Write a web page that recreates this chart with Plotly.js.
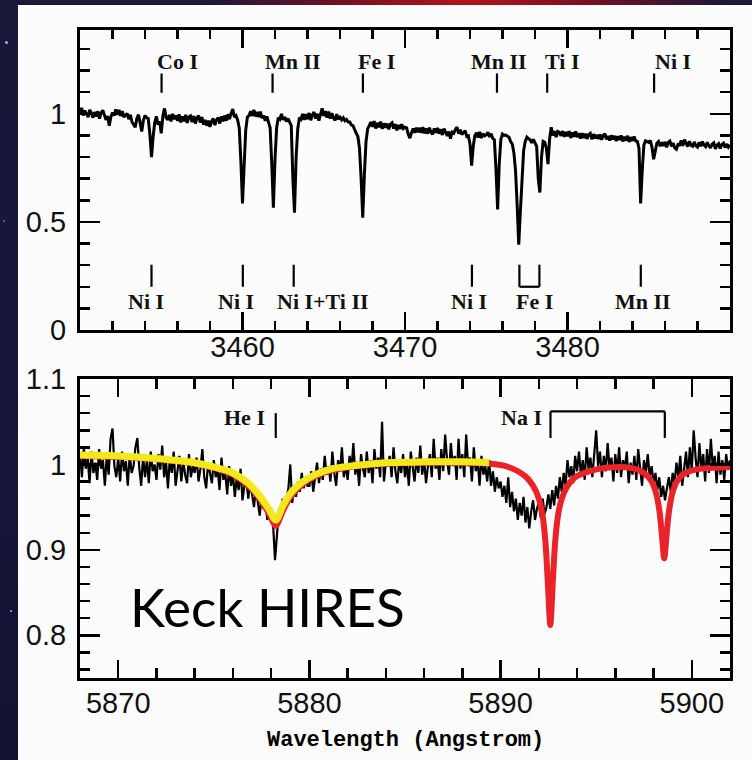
<!DOCTYPE html>
<html>
<head>
<meta charset="utf-8">
<script src="https://cdn.plot.ly/plotly-3.0.1.min.js"></script>
<style>
  html, body { margin: 0; padding: 0; }
  body {
    width: 752px; height: 760px; overflow: hidden; position: relative;
    background:
      radial-gradient(ellipse 260px 40px at 62% 0%, #b3161a 0%, #7a1022 45%, rgba(40,20,50,0) 100%),
      linear-gradient(180deg, #1a1838 0%, #17163a 50%, #121230 100%);
  }
  .star { position: absolute; width: 3px; height: 3px; border-radius: 50%; background: #cfd3ff; opacity: 0.8; }
  #sheet { position: absolute; left: 18px; top: 5px; width: 734px; height: 755px; background: #fcfcfc; }
  #chart { position: absolute; left: 0; top: 0; width: 752px; height: 760px; }
</style>
</head>
<body>
<div class="star" style="left:5px;top:41px"></div>
<div class="star" style="left:10px;top:610px;width:2px;height:2px"></div>
<div class="star" style="left:3px;top:220px;width:2px;height:2px;opacity:0.5"></div>
<div id="sheet"></div>
<div id="chart"></div>
<script>
// ---- UV spectrum, 3450-3490 A (uniform grid) ----
const topStart = 3449.9;
const topStep = 0.1;
const topFlux = [
  1.020, 0.998, 1.028, 0.992, 1.015, 1.000, 0.985, 1.018, 1.004, 0.982,
  1.008, 0.988, 1.012, 0.978, 1.004, 1.016, 0.990, 0.972, 0.990, 0.945,
  0.985, 1.006, 0.992, 1.020, 0.996, 1.018, 0.990, 1.012, 0.985, 0.995,
  1.002, 0.975, 0.995, 0.962, 0.952, 0.938, 0.980, 0.996, 0.958, 0.918,
  0.970, 0.992, 0.982, 0.978, 0.905, 0.800, 0.895, 0.960, 0.988, 0.950,
  0.965, 0.910, 0.990, 1.025, 0.982, 0.972, 0.995, 0.965, 1.000, 0.975,
  0.992, 0.968, 0.998, 0.960, 0.988, 0.965, 0.995, 0.958, 0.985, 0.990,
  0.962, 0.990, 0.955, 0.982, 0.992, 0.960, 0.985, 0.950, 0.972, 0.945,
  0.968, 0.940, 0.965, 0.978, 0.948, 0.972, 0.982, 0.955, 0.988, 0.965,
  0.992, 0.968, 0.998, 0.975, 1.002, 1.022, 0.985, 0.992, 0.972, 0.935,
  0.780, 0.585, 0.760, 0.925, 0.985, 0.992, 1.012, 0.990, 1.018, 0.988,
  1.008, 0.985, 1.010, 0.980, 0.992, 0.968, 0.988, 0.965, 0.935, 0.770,
  0.566, 0.790, 0.935, 0.982, 0.975, 1.000, 0.972, 0.985, 0.965, 0.978,
  0.958, 0.945, 0.700, 0.543, 0.800, 0.930, 0.982, 0.975, 1.000, 0.972,
  0.998, 0.975, 1.004, 0.970, 0.995, 1.008, 0.978, 1.000, 0.968, 1.004,
  1.025, 0.990, 1.012, 0.982, 1.010, 0.978, 1.003, 0.980, 0.970, 0.998,
  0.975, 0.984, 0.972, 0.982, 0.968, 0.974, 0.962, 0.962, 0.948, 0.945,
  0.925, 0.910, 0.895, 0.840, 0.700, 0.520, 0.720, 0.870, 0.930, 0.950,
  0.962, 0.940, 0.966, 0.932, 0.958, 0.938, 0.964, 0.930, 0.956, 0.936,
  0.955, 0.928, 0.952, 0.958, 0.932, 0.952, 0.924, 0.948, 0.930, 0.952,
  0.932, 0.938, 0.935, 0.905, 0.888, 0.912, 0.932, 0.912, 0.936, 0.915,
  0.935, 0.912, 0.938, 0.910, 0.932, 0.908, 0.936, 0.915, 0.905, 0.932,
  0.912, 0.935, 0.908, 0.928, 0.902, 0.932, 0.912, 0.898, 0.918, 0.885,
  0.915, 0.910, 0.928, 0.938, 0.908, 0.926, 0.904, 0.912, 0.922, 0.895,
  0.898, 0.860, 0.760, 0.850, 0.900, 0.912, 0.890, 0.916, 0.888, 0.908,
  0.898, 0.902, 0.915, 0.893, 0.908, 0.886, 0.880, 0.740, 0.558, 0.770,
  0.882, 0.906, 0.900, 0.902, 0.895, 0.892, 0.872, 0.860, 0.820, 0.740,
  0.580, 0.395, 0.550, 0.720, 0.830, 0.872, 0.892, 0.884, 0.880, 0.866,
  0.882, 0.866, 0.850, 0.700, 0.636, 0.800, 0.872, 0.868, 0.840, 0.767,
  0.885, 0.938, 0.900, 0.920, 0.892, 0.918, 0.914, 0.898, 0.920, 0.894,
  0.916, 0.896, 0.920, 0.888, 0.914, 0.894, 0.918, 0.892, 0.910, 0.886,
  0.910, 0.888, 0.908, 0.884, 0.904, 0.910, 0.882, 0.906, 0.886, 0.902,
  0.884, 0.904, 0.880, 0.900, 0.908, 0.882, 0.898, 0.876, 0.900, 0.882,
  0.898, 0.874, 0.896, 0.880, 0.900, 0.872, 0.894, 0.876, 0.898, 0.870,
  0.892, 0.875, 0.895, 0.874, 0.872, 0.840, 0.585, 0.740, 0.855, 0.875,
  0.872, 0.868, 0.876, 0.845, 0.790, 0.835, 0.864, 0.872, 0.850, 0.868,
  0.852, 0.870, 0.845, 0.868, 0.874, 0.850, 0.865, 0.842, 0.836, 0.858,
  0.856, 0.876, 0.852, 0.880, 0.860, 0.848, 0.873, 0.855, 0.850, 0.870,
  0.852, 0.846, 0.868, 0.850, 0.872, 0.855, 0.848, 0.868, 0.852, 0.842,
  0.860, 0.866, 0.838, 0.855, 0.862, 0.840, 0.858, 0.864, 0.844, 0.860,
  0.846, 0.856
];

// ---- optical spectrum, 5868-5902 A (uniform grid) ----
const botStart = 5868.0;
const botStep = 0.1;
const botFlux = [
  1.012, 0.985, 1.020, 0.995, 1.008, 0.978, 1.015, 0.990, 1.002, 0.982,
  1.018, 0.995, 1.005, 0.975, 1.010, 0.988, 1.030, 1.042, 0.998, 0.985,
  1.008, 0.980, 1.015, 0.992, 1.004, 0.975, 1.012, 0.990, 0.998, 1.020,
  1.031, 0.996, 0.975, 1.010, 0.985, 1.005, 0.978, 1.015, 0.992, 1.000,
  0.982, 1.012, 0.994, 1.022, 0.985, 1.003, 0.972, 1.008, 0.990, 1.015,
  0.975, 0.995, 1.010, 0.980, 1.004, 0.988, 0.978, 1.012, 0.985, 0.998,
  0.990, 1.008, 0.980, 0.995, 1.018, 0.985, 0.972, 1.002, 0.990, 0.978,
  1.005, 0.985, 0.995, 0.970, 1.008, 0.982, 0.990, 0.965, 0.998, 0.975,
  0.988, 0.962, 0.985, 0.970, 0.995, 0.958, 0.975, 0.982, 0.960, 0.978,
  0.965, 0.950, 0.972, 0.958, 0.940, 0.962, 0.948, 0.955, 0.935, 0.945,
  0.938, 0.930, 0.888, 0.922, 0.945, 0.935, 0.960, 0.948, 0.958, 0.972,
  1.000, 0.955, 0.975, 0.962, 0.980, 0.968, 0.990, 0.972, 0.985, 0.975,
  0.975, 0.992, 0.968, 0.985, 1.002, 0.978, 0.995, 0.982, 1.010, 0.988,
  0.998, 0.980, 1.015, 0.990, 0.975, 1.005, 0.992, 1.020, 0.985, 1.000,
  0.982, 1.010, 0.995, 1.025, 0.988, 1.003, 0.975, 1.012, 0.995, 0.985,
  1.015, 0.990, 1.005, 0.978, 1.018, 0.995, 1.008, 0.985, 1.050, 0.980,
  1.002, 0.998, 1.010, 0.985, 1.020, 0.992, 0.978, 1.005, 0.990, 1.012,
  0.985, 1.002, 0.975, 1.015, 0.995, 0.980, 1.008, 0.990, 1.022, 0.988,
  1.005, 0.978, 0.998, 1.012, 0.985, 1.030, 0.995, 1.008, 0.982, 1.018,
  0.992, 1.035, 1.005, 0.988, 1.025, 0.998, 1.010, 0.982, 1.030, 0.995,
  1.012, 0.985, 1.035, 0.998, 1.008, 0.980, 1.020, 0.992, 1.005, 0.975,
  1.010, 0.988, 0.998, 0.980, 1.005, 0.975, 0.992, 0.968, 0.985, 0.972,
  0.980, 0.962, 0.975, 0.955, 0.985, 0.950, 0.968, 0.945, 0.960, 0.935,
  0.955, 0.940, 0.962, 0.932, 0.950, 0.925, 0.945, 0.958, 0.935, 0.948,
  0.955, 0.938, 0.960, 0.942, 0.950, 0.965, 0.948, 0.970, 0.952, 0.975,
  0.960, 0.985, 0.968, 0.990, 0.975, 1.005, 0.985, 0.998, 0.978, 1.010,
  0.992, 1.015, 0.988, 1.005, 0.982, 1.020, 0.995, 1.008, 0.985, 1.012,
  1.040, 0.998, 1.015, 0.985, 1.010, 0.992, 1.025, 0.995, 1.008, 0.980,
  1.012, 0.990, 1.020, 0.985, 1.005, 0.995, 1.015, 0.978, 1.002, 0.988,
  1.010, 0.982, 1.018, 0.995, 0.975, 1.005, 0.990, 1.012, 0.985, 0.998,
  0.978, 0.990, 0.970, 0.985, 0.962, 0.975, 0.958, 0.972, 0.985, 0.968,
  0.990, 0.978, 1.002, 0.985, 1.010, 0.975, 0.998, 1.015, 0.985, 1.020,
  0.992, 1.040, 1.008, 0.985, 1.025, 0.995, 1.012, 0.980, 1.018, 0.990,
  1.030, 0.995, 1.010, 0.978, 1.015, 0.988, 1.005, 0.982, 1.012, 0.995,
  1.005
];

// ---- model profiles: full model (red) and He I fit (yellow) ----
const redWave = [5868, 5870, 5872, 5874, 5875, 5876, 5876.8, 5877.4, 5877.9, 5878.24,
  5878.6, 5879.0, 5879.6, 5880.3, 5881.2, 5882.5, 5884, 5886, 5888, 5889.4,
  5890.4, 5891.3, 5891.7, 5892.0, 5892.2, 5892.35, 5892.47, 5892.6, 5892.73, 5892.85,
  5893.0, 5893.2, 5893.5, 5893.9, 5894.5, 5895.5, 5896.8, 5897.5, 5897.9, 5898.15,
  5898.33, 5898.45, 5898.56, 5898.67, 5898.79, 5898.97, 5899.22, 5899.6, 5900.2, 5901.1,
  5902];
const redFlux = [1.010, 1.009, 1.006, 1.001, 0.996, 0.988, 0.975, 0.960, 0.942, 0.928,
  0.945, 0.962, 0.976, 0.986, 0.993, 0.998, 1.001, 1.002, 1.002, 1.001,
  0.997, 0.986, 0.975, 0.960, 0.940, 0.908, 0.862, 0.812, 0.862, 0.908,
  0.940, 0.960, 0.975, 0.985, 0.991, 0.996, 0.996, 0.990, 0.980, 0.965,
  0.942, 0.914, 0.890, 0.914, 0.942, 0.965, 0.980, 0.989, 0.994, 0.996,
  0.997];
const yellowWave = [5868, 5870, 5872, 5874, 5875, 5876, 5876.8, 5877.4, 5877.9, 5878.24,
  5878.6, 5879.0, 5879.6, 5880.3, 5881.2, 5882.5, 5884, 5886, 5888, 5889.4];
const yellowFlux = [1.011, 1.010, 1.007, 1.002, 0.997, 0.990, 0.978, 0.963, 0.947, 0.935,
  0.951, 0.966, 0.979, 0.988, 0.995, 0.999, 1.002, 1.003, 1.003, 1.002];

// ---- line identifications ----
const upperNames = ['Co I', 'Mn II', 'Fe I', 'Mn II', 'Ti I', 'Ni I'];
const upperMarks = [3455.02, 3461.85, 3467.41, 3475.66, 3478.75, 3485.33];
const upperTextAt = [3456.03, 3463.10, 3468.24, 3475.76, 3479.67, 3486.51];
const lowerNames = ['Ni I', 'Ni I', 'Ni I+Ti II', 'Ni I', 'Fe I', 'Mn II'];
const lowerTextAt = [3454.09, 3459.60, 3464.96, 3473.96, 3477.98, 3484.66];
const lowerMarks = [3454.40, 3460.02, 3463.15, 3474.12, 3484.51];
const feBracket = [3477.04, 3478.27];
const heName = 'He I';
const heMark = 5878.24;
const heTextAt = 5876.63;
const naName = 'Na I';
const naBracket = [5892.61, 5898.59];
const naTextAt = 5891.08;

// ---- axes ----
const topRange = [3450, 3490];
const botRange = [5868, 5902];
const topXTicks = [3460, 3470, 3480];
const botXTicks = [5870, 5880, 5890, 5900];
const topYTicks = [0, 0.5, 1];
const botYTicks = [0.8, 0.9, 1, 1.1];

const W = 752, H = 760;
const px = v => v / W;
const py = v => 1 - v / H;

const tickFont = { family: 'Liberation Sans, Arial, sans-serif', size: 29, color: '#111' };
const idFont = { family: 'Liberation Serif, serif', size: 22, color: '#111', weight: 'bold' };

function axisBase(extra) {
  return Object.assign({
    showline: true, linecolor: '#000', linewidth: 3, mirror: 'allticks',
    ticks: 'inside', tickcolor: '#000', tickwidth: 2.5,
    showgrid: false, zeroline: false, tickfont: tickFont,
    tickmode: 'array', fixedrange: true
  }, extra);
}

const traces = [
  { x0: topStart, dx: topStep, y: topFlux, type: 'scatter', mode: 'lines',
    line: { color: '#000', width: 3 }, xaxis: 'x', yaxis: 'y', hoverinfo: 'skip' },
  { x0: botStart, dx: botStep, y: botFlux, type: 'scatter', mode: 'lines',
    line: { color: '#000', width: 2.2 }, xaxis: 'x2', yaxis: 'y2', hoverinfo: 'skip' },
  { x: redWave, y: redFlux, type: 'scatter', mode: 'lines',
    line: { color: '#ea2229', width: 6, shape: 'spline', smoothing: 0.8 }, xaxis: 'x2', yaxis: 'y2', hoverinfo: 'skip' },
  { x: yellowWave, y: yellowFlux, type: 'scatter', mode: 'lines',
    line: { color: '#f4e81b', width: 7, shape: 'spline', smoothing: 1 }, xaxis: 'x2', yaxis: 'y2', hoverinfo: 'skip' }
];

const shapes = [];
const annotations = [];
const seg = (xr, yr, x0, y0, x1, y1) => shapes.push({
  type: 'line', xref: xr, yref: yr, x0: x0, y0: y0, x1: x1, y1: y1,
  line: { color: '#000', width: 2.2 }
});
const label = (xr, yr, x, y, text) => annotations.push({
  xref: xr, yref: yr, x: x, y: y, text: text, showarrow: false,
  xanchor: 'center', yanchor: 'middle', font: idFont
});

upperMarks.forEach(w => seg('x', 'y', w, 1.098, w, 1.186));
upperNames.forEach((n, i) => label('x', 'y', upperTextAt[i], 1.240, n));
lowerMarks.forEach(w => seg('x', 'y', w, 0.200, w, 0.302));
seg('x', 'y', feBracket[0], 0.200, feBracket[0], 0.302);
seg('x', 'y', feBracket[1], 0.200, feBracket[1], 0.302);
seg('x', 'y', feBracket[0], 0.200, feBracket[1], 0.200);
lowerNames.forEach((n, i) => label('x', 'y', lowerTextAt[i], 0.130, n));

seg('x2', 'y2', heMark, 1.031, heMark, 1.060);
label('x2', 'y2', heTextAt, 1.055, heName);
seg('x2', 'y2', naBracket[0], 1.031, naBracket[0], 1.062);
seg('x2', 'y2', naBracket[1], 1.031, naBracket[1], 1.062);
seg('x2', 'y2', naBracket[0], 1.062, naBracket[1], 1.062);
label('x2', 'y2', naTextAt, 1.055, naName);

annotations.push({
  xref: 'paper', yref: 'paper', x: px(128), y: py(606), xanchor: 'left', yanchor: 'middle',
  text: 'Keck HIRES', showarrow: false,
  font: { family: 'Lato, sans-serif', size: 53, color: '#000', weight: 400 }
});
annotations.push({
  xref: 'paper', yref: 'paper', x: px(405), y: py(740), xanchor: 'center', yanchor: 'middle',
  text: 'Wavelength (Angstrom)', showarrow: false,
  font: { family: 'Liberation Mono, monospace', size: 22, color: '#000', weight: 'bold' }
});

const layout = {
  width: W, height: H,
  margin: { l: 0, r: 0, t: 0, b: 0 },
  paper_bgcolor: 'rgba(0,0,0,0)', plot_bgcolor: 'rgba(0,0,0,0)',
  showlegend: false,
  xaxis: axisBase({
    domain: [px(80), px(730)], range: topRange, anchor: 'y',
    tickvals: topXTicks, ticktext: topXTicks.map(String), ticklen: 18, ticklabelstandoff: -11,
    minor: { tickmode: 'linear', tick0: 3450, dtick: 2, ticklen: 9, tickwidth: 2.5, tickcolor: '#000', ticks: 'inside' }
  }),
  yaxis: axisBase({
    domain: [py(330), py(29.5)], range: [0, 1.39], anchor: 'x',
    tickvals: topYTicks, ticktext: ['0', '0.5', '1'], ticklen: 20, ticklabelstandoff: 5,
    minor: { tickmode: 'linear', tick0: 0, dtick: 0.1, ticklen: 10, tickwidth: 2.5, tickcolor: '#000', ticks: 'inside' }
  }),
  xaxis2: axisBase({
    domain: [px(80), px(730)], range: botRange, anchor: 'y2',
    tickvals: botXTicks, ticktext: botXTicks.map(String), ticklen: 18, ticklabelstandoff: -3,
    minor: { tickmode: 'linear', tick0: 5868, dtick: 2, ticklen: 10, tickwidth: 2.5, tickcolor: '#000', ticks: 'inside' }
  }),
  yaxis2: axisBase({
    domain: [py(678), py(379)], range: [0.75, 1.1], anchor: 'x2',
    tickvals: botYTicks, ticktext: ['0.8', '0.9', '1', '1.1'], ticklen: 20, ticklabelstandoff: 5,
    minor: { tickmode: 'linear', tick0: 0.74, dtick: 0.02, ticklen: 10, tickwidth: 2.5, tickcolor: '#000', ticks: 'inside' }
  }),
  shapes: shapes,
  annotations: annotations
};

Plotly.newPlot('chart', traces, layout, { displayModeBar: false, staticPlot: true });
</script>
</body>
</html>
